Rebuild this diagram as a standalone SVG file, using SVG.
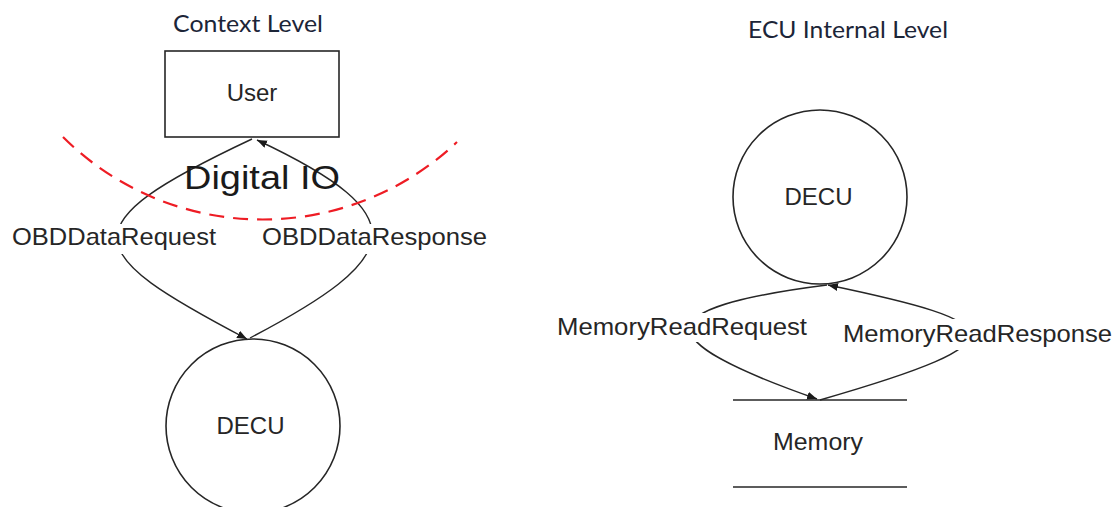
<svg xmlns="http://www.w3.org/2000/svg" width="1118" height="507" viewBox="0 0 1118 507">
<defs>
<style>
.title{font-family:"Lato","Liberation Sans",sans-serif;font-size:23px;fill:#1c2538}
.lbl{font-family:"Liberation Sans",Arial,sans-serif;font-size:24px;fill:#262626}
.shape{fill:#fff;stroke:#262626;stroke-width:1.6}
.flow{fill:none;stroke:#262626;stroke-width:1.4}
.bg{fill:#fff;stroke:none}
</style>
<marker id="arr" markerUnits="userSpaceOnUse" markerWidth="12" markerHeight="10" refX="10" refY="4" orient="auto">
<path d="M0,0 L10,4 L0,8 z" fill="#1a1a1a"/>
</marker>
</defs>
<rect width="1118" height="507" fill="#fff"/>

<text class="title" x="173" y="32" textLength="150" lengthAdjust="spacingAndGlyphs">Context Level</text>
<text class="title" x="748" y="38" textLength="200" lengthAdjust="spacingAndGlyphs">ECU Internal Level</text>

<g id="user">
<rect class="shape" x="165" y="51" width="174" height="86"/>
<text class="lbl" x="252" y="101" text-anchor="middle">User</text>
</g>

<g id="decu-context">
<circle class="shape" cx="253" cy="426" r="87"/>
<text class="lbl" x="250.5" y="434" font-size="25" text-anchor="middle">DECU</text>
</g>

<g id="decu-internal">
<circle class="shape" cx="820" cy="197" r="87"/>
<text class="lbl" x="818.5" y="205" font-size="25" text-anchor="middle">DECU</text>
</g>

<g id="memory">
<line class="shape" x1="733" y1="400" x2="907" y2="400"/>
<line class="shape" x1="733" y1="487" x2="907" y2="487"/>
<text class="lbl" x="773" y="450" textLength="90" lengthAdjust="spacingAndGlyphs">Memory</text>
</g>

<g id="connectors">
<path class="flow" d="M252,139 C65.5,226.6 80.3,251.4 247,339" marker-end="url(#arr)"/>
<path class="flow" d="M250,338 C401.9,258.2 421.2,217.1 257,140" marker-end="url(#arr)"/>
<path class="flow" d="M827,285 C647.1,307.8 644.8,338.8 817,399" marker-end="url(#arr)"/>
<path class="flow" d="M820,400 C1029.4,339.9 1007.9,322.5 828,285" marker-end="url(#arr)"/>
</g>

<g id="labels">
<rect class="bg" x="10" y="224" width="208" height="30"/>
<text class="lbl" x="12" y="245" textLength="204" lengthAdjust="spacingAndGlyphs">OBDDataRequest</text>
<rect class="bg" x="260" y="224" width="229" height="30"/>
<text class="lbl" x="262" y="245" textLength="225" lengthAdjust="spacingAndGlyphs">OBDDataResponse</text>
<rect class="bg" x="555" y="313" width="254" height="29"/>
<text class="lbl" x="557" y="335" textLength="250" lengthAdjust="spacingAndGlyphs">MemoryReadRequest</text>
<rect class="bg" x="841" y="319" width="273" height="31"/>
<text class="lbl" x="843" y="342" textLength="269" lengthAdjust="spacingAndGlyphs">MemoryReadResponse</text>
</g>

<g id="boundary">
<path d="M63,137 A282.6,282.6 0 0 0 457,142" fill="none" stroke="#ee1c24" stroke-width="2.2" stroke-dasharray="15,9"/>
<text x="184" y="189" font-family="Liberation Sans, Arial, sans-serif" font-size="34" fill="#1a1a1a" textLength="156" lengthAdjust="spacingAndGlyphs">Digital IO</text>
</g>
</svg>
